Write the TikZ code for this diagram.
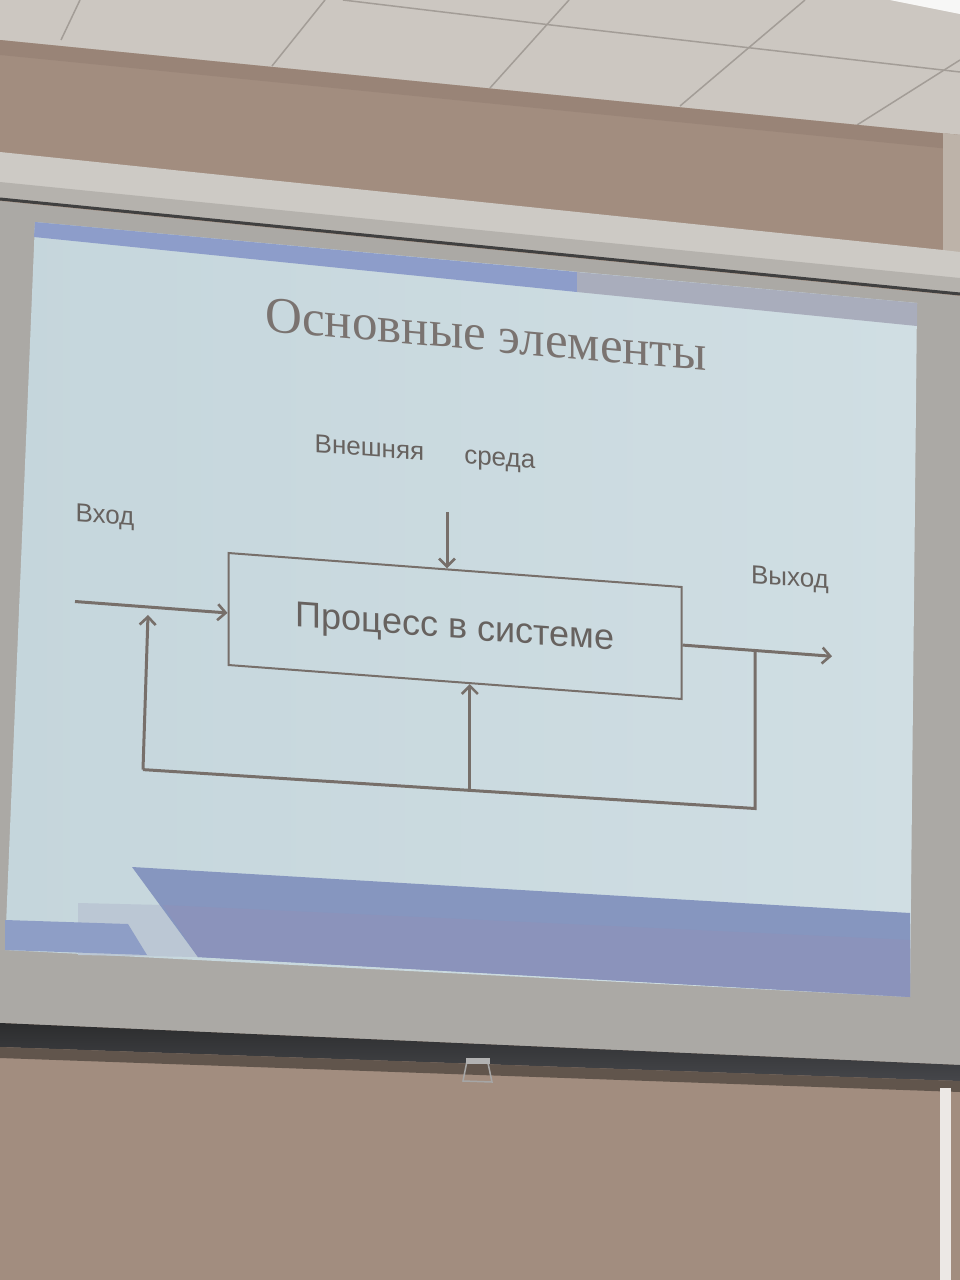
\documentclass[tikz,border=0pt]{standalone}
\usepackage{fontspec}
\setmainfont{Liberation Serif}
\newfontfamily\labelfont{Liberation Sans}
\usetikzlibrary{arrows.meta,calc}

% room
\definecolor{ceilc}{HTML}{CCC7C1}
\definecolor{seamc}{HTML}{A39D97}
\definecolor{wallc}{HTML}{A28D7F}
\definecolor{walldark}{HTML}{927D70}
\definecolor{cornerc}{HTML}{BDB3A9}
\definecolor{housingc}{HTML}{CDCAC5}
\definecolor{lipc}{HTML}{B5B2AD}
\definecolor{screenc}{HTML}{ABA9A5}
\definecolor{barc}{HTML}{2C2D2E}
\definecolor{barlow}{HTML}{45464A}
% slide
\definecolor{slideL}{HTML}{C5D6DC}
\definecolor{slideM}{HTML}{D7E4E8}
\definecolor{slideR}{HTML}{D0DEE3}
\definecolor{bandblue}{HTML}{8D9DCA}
\definecolor{bandgrey}{HTML}{A9ADBC}
\definecolor{decoA}{HTML}{8696BF}
\definecolor{decoB}{HTML}{8B93BB}
\definecolor{decoC}{HTML}{8E9EC6}
\definecolor{ghostc}{HTML}{BBC7D4}
% diagram
\definecolor{titlec}{HTML}{7A7370}
\definecolor{txtc}{HTML}{67625F}
\definecolor{linec}{HTML}{776F6A}

\begin{document}
\begin{tikzpicture}[x=1pt,y=-1pt,
  seam/.style={draw=seamc, line width=1.5pt},
  lbl/.style={font=\labelfont\fontsize{26}{30}\selectfont, text=txtc,
              inner sep=0pt, transform shape},
  procbox/.style={draw=linec, line width=2pt, minimum width=453pt,
              minimum height=112pt, inner sep=0pt, text depth=0pt,
              transform shape, font=\labelfont\fontsize{36}{40}\selectfont,
              text=txtc},
  wire/.style={draw=linec, line width=3pt},
  flow/.style={wire, -{Straight Barb[length=8pt,width=16pt,line width=2.6pt]}},
  titletext/.style={font=\fontsize{51}{56}\selectfont, inner sep=0pt,
              anchor=base, transform shape},
]
\useasboundingbox (0,0) rectangle (960,1280);

% ceiling and its tile seams
\fill[ceilc] (0,0) rectangle (960,1280);
\fill[white!85!ceilc] (890,0) -- (960,0) -- (960,14) -- cycle;
\draw[seam] (80,0) -- (61,40);
\draw[seam] (325,0) -- (272,66);
\draw[seam] (569,0) -- (490,88);
\draw[seam] (805,0) -- (680,106);
\draw[seam] (960,60) -- (857,125);
\draw[seam] (343,0) -- (551,25) -- (960,72);

% wall
\fill[wallc] (0,40) -- (960,135) -- (960,1280) -- (0,1280) -- cycle;
\fill[walldark, opacity=.5] (0,40) -- (960,135) -- (960,150) -- (0,55) -- cycle;
\fill[cornerc] (943,133) -- (960,135) -- (960,258) -- (943,252) -- cycle;

% screen housing
\fill[housingc] (0,152) -- (943,250) -- (960,252) -- (960,293) -- (0,198) -- cycle;
\fill[lipc] (0,182) -- (960,278) -- (960,293) -- (0,198) -- cycle;
\draw[black!75, line width=3pt] (0,199) -- (960,294);

% screen cloth, roller bar and pull handle
\fill[screenc] (0,201) -- (960,296) -- (960,1065) -- (0,1023) -- cycle;
\shade[top color=barc, bottom color=barlow]
  (0,1023) -- (960,1065) -- (960,1081) -- (0,1047) -- cycle;
\fill[black!40!wallc] (0,1047) -- (960,1081) -- (960,1092) -- (0,1058) -- cycle;
\draw[gray!70, line width=1.5pt] (467,1061) -- (463,1081) -- (492,1082) -- (488,1063) -- cycle;
\fill[gray!60] (466,1058) rectangle (490,1064);

% right-hand frame strip below the screen
\fill[white!80!wallc] (940,1088) rectangle (951,1280);

% projected slide
\shade[left color=slideL, middle color=slideM, right color=slideR]
  (35,222) -- (917,303) -- (910,997) -- (5,950) -- cycle;
\fill[bandblue] (35,222) -- (577,272) -- (577,292) -- (34,237) -- cycle;
\fill[bandgrey] (577,272) -- (917,303) -- (917,326) -- (577,292) -- cycle;
\fill[ghostc] (78,903) -- (163,905) -- (198,957) -- (78,955) -- cycle;
\fill[decoC] (5,920) -- (128,924) -- (147,955) -- (5,950) -- cycle;
\fill[decoA] (132,867) -- (910,913) -- (910,997) -- (198,957) -- cycle;
\fill[decoB] (163,905) -- (910,940) -- (910,997) -- (198,957) -- cycle;

% slide title
\begin{scope}[cm={1,-0.09,0,1,(0pt,43.74pt)}]
  \node[titletext, text=titlec] (title) at (486,351) {Основные элементы};
\end{scope}

% system diagram
\begin{scope}[cm={1,-0.075,0,1,(0pt,34.125pt)}]
  \node[procbox] (proc) at (455,626) {Процесс в системе};

  \node[lbl, anchor=base] (env) at (425,463) {Внешняя\hspace{40pt}среда};
  \node[lbl, anchor=base] (inlbl) at (105,550) {Вход};
  \node[lbl, anchor=base] (outlbl) at (790,561) {Выход};

  \coordinate (envsrc) at (447,513);
  \coordinate (inA) at (75,630);
  \coordinate (outB) at (832,628);
  \coordinate (tap) at (755,628);
  \coordinate (fbR) at (755,786);
  \coordinate (fbL) at (143,793);
  \coordinate (fbM) at ($(fbL)!0.534!(fbR)$);
  \coordinate (fbTop) at (148,638);

  \draw[flow] (envsrc) -- (envsrc |- proc.north);
  \draw[flow] (inA) -- (inA -| proc.west);
  \draw[flow] (proc.east |- outB) -- (outB);
  \draw[wire] (tap) -- (fbR) -- (fbL);
  \draw[flow] (fbL) -- (fbTop);
  \draw[flow] (fbM) -- (fbM |- proc.south);
\end{scope}
\end{tikzpicture}
\end{document}
